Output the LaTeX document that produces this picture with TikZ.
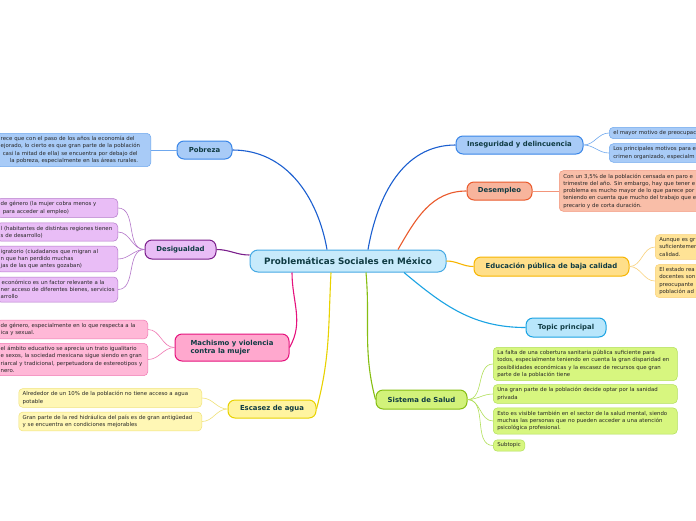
\documentclass[tikz,border=0pt]{standalone}
\usepackage{fontspec}
\setmainfont{DejaVu Sans}

\definecolor{rootfill}{HTML}{C7EAFB}
\definecolor{rootline}{HTML}{45A9E4}
\definecolor{toptext}{HTML}{0F3B43}
\definecolor{subtext}{HTML}{262626}
\definecolor{bluefill}{HTML}{A8CBF7}
\definecolor{blueline}{HTML}{3A86E8}
\definecolor{bluelink}{HTML}{1B5FD0}
\definecolor{bluetwig}{HTML}{6FA8EE}
\definecolor{violfill}{HTML}{E9BDF6}
\definecolor{violline}{HTML}{7B1F8C}
\definecolor{violtwig}{HTML}{B477CA}
\definecolor{pinkfill}{HTML}{FFA8CE}
\definecolor{pinkline}{HTML}{E5127D}
\definecolor{pinksub}{HTML}{FFB8D7}
\definecolor{pinktwig}{HTML}{F07AB4}
\definecolor{yelfill}{HTML}{FFF4A0}
\definecolor{yelline}{HTML}{E8D200}
\definecolor{yelsub}{HTML}{FFF7B5}
\definecolor{yeltwig}{HTML}{F0E27A}
\definecolor{salfill}{HTML}{F8B49C}
\definecolor{salline}{HTML}{EA5A2C}
\definecolor{salsub}{HTML}{F9BEA8}
\definecolor{saltwig}{HTML}{F3957A}
\definecolor{ambfill}{HTML}{FFDF8A}
\definecolor{ambline}{HTML}{F7B500}
\definecolor{ambsub}{HTML}{FFE396}
\definecolor{ambtwig}{HTML}{F9D17A}
\definecolor{cyanfill}{HTML}{B8E6FB}
\definecolor{cyanline}{HTML}{1AA3E3}
\definecolor{grnfill}{HTML}{D2F27A}
\definecolor{grnline}{HTML}{86BE12}
\definecolor{grnsub}{HTML}{D7F67F}
\definecolor{grntwig}{HTML}{B2E05A}

\begin{document}
\begin{tikzpicture}[x=1pt, y=-1pt,
    root/.style={rectangle, rounded corners=8pt, draw=rootline, fill=rootfill, line width=1pt, minimum width=196pt, minimum height=22pt, font=\fontsize{8.8}{10}\selectfont\bfseries, text=toptext},
    topic/.style={rectangle, rounded corners=7pt, line width=1pt, minimum height=18pt, inner sep=2pt, font=\fontsize{6.9}{8.2}\selectfont\bfseries, text=toptext},
    sub/.style={rectangle, rounded corners=4pt, line width=0.5pt, inner xsep=4pt, inner ysep=3pt, align=left, font=\fontsize{5.4}{7.3}\selectfont, text=subtext},
    link/.style={line width=1.1pt},
    twig/.style={line width=0.6pt}
]
\useasboundingbox (0,0) rectangle (696,520);
\fill[white] (0,0) rectangle (696,520);
\clip (0,0) rectangle (696,520);

% Central topic
\node[root] (root) at (348,261) {Problemáticas Sociales en México};

% Main topics - left side
\node[topic, draw=blueline, fill=bluefill, minimum width=55pt] (pobreza) at (204.5,150) {Pobreza};
\node[topic, draw=violline, fill=violfill, minimum width=71pt, minimum height=19pt] (desig) at (180.5,249.5) {Desigualdad};
\node[topic, draw=pinkline, fill=pinkfill, minimum width=114pt, minimum height=27pt, align=left] (machismo) at (232,347.5) {Machismo y violencia\\contra la mujer};
\node[topic, draw=yelline, fill=yelfill, minimum width=88pt] (escasez) at (272,409) {Escasez de agua};

% Main topics - right side
\node[topic, draw=blueline, fill=bluefill, minimum width=127pt] (inseg) at (519.5,145) {Inseguridad y delincuencia};
\node[topic, draw=salline, fill=salfill, minimum width=65pt] (desempleo) at (499.5,191) {Desempleo};
\node[topic, draw=ambline, fill=ambfill, minimum width=155pt, minimum height=19pt] (educ) at (551.5,266.5) {Educación pública de baja calidad};
\node[topic, draw=cyanline, fill=cyanfill, minimum width=80pt, minimum height=19pt] (topicp) at (566,327.5) {Topic principal};
\node[topic, draw=grnline, fill=grnfill, minimum width=91pt, minimum height=19pt] (salud) at (421.5,399.5) {Sistema de Salud};

% Links from the central topic
\draw[link, bluelink] ([xshift=-21pt]root.north) to[out=100, in=0] (pobreza.east);
\draw[link, violline] ([yshift=6pt]root.west) to[out=180, in=0] (desig.east);
\draw[link, pinkline] ([xshift=-56pt]root.south) to[out=-90, in=60] (machismo.east);
\draw[link, yelline] ([xshift=-17pt]root.south) to[out=-93, in=75] (escasez.east);
\draw[link, bluelink] ([xshift=20pt]root.north) to[out=80, in=180] (inseg.west);
\draw[link, salline] ([xshift=50pt]root.north) to[out=60, in=180] (desempleo.west);
\draw[link, ambline] (root.east) to[out=0, in=180] (educ.west);
\draw[link, cyanline] ([xshift=56pt]root.south) to[out=-40, in=180] (topicp.west);
\draw[link, grnline] ([xshift=18pt]root.south) to[out=-85, in=105] (salud.west);

% Pobreza
\node[sub, draw=bluetwig, fill=bluefill, text width=146pt, anchor=east] (pob1) at (151,150) {rece que con el paso de los años la economía del\\ejorado, lo cierto es que gran parte de la población\\\hspace*{2pt}casi la mitad de ella) se encuentra por debajo del\\\hspace*{9pt}la pobreza, especialmente en las áreas rurales.};
\draw[twig, bluetwig] (pobreza.west) -- (pob1.east);

% Desigualdad
\node[sub, draw=violtwig, fill=violfill, text width=113pt, anchor=east] (des1) at (118,208) {de género (la mujer cobra menos y\\\hspace*{2pt}para acceder al empleo)};
\node[sub, draw=violtwig, fill=violfill, text width=113pt, anchor=east] (des2) at (118,232) {\mbox{l (habitantes de distintas regiones tienen}\\s de desarrollo)};
\node[sub, draw=violtwig, fill=violfill, text width=113pt, anchor=east] (des3) at (118,259) {igratorio (ciudadanos que migran al\\n que han perdido muchas\\jas de las que antes gozaban)};
\node[sub, draw=violtwig, fill=violfill, text width=113pt, anchor=east] (des4) at (118,289.5) {\hspace*{1pt}económico es un factor relevante a la\\\mbox{ner acceso de diferentes bienes, servicios}\\arrollo};
\foreach \s in {des1,des2,des3,des4}
  \draw[twig, violtwig] (desig.west) to[out=180, in=0] (\s.east);

% Machismo y violencia contra la mujer
\node[sub, draw=pinktwig, fill=pinksub, text width=143pt, anchor=east] (mac1) at (148,329.5) {de género, especialmente en lo que respecta a la\\ica y sexual.};
\node[sub, draw=pinktwig, fill=pinksub, text width=143pt, anchor=east] (mac2) at (148,359.5) {el ámbito educativo se aprecia un trato igualitario\\e sexos, la sociedad mexicana sigue siendo en gran\\\mbox{riarcal y tradicional, perpetuadora de estereotipos y}\\nero.};
\foreach \s in {mac1,mac2}
  \draw[twig, pinktwig] (machismo.west) to[out=180, in=0] (\s.east);

% Escasez de agua
\node[sub, draw=yeltwig, fill=yelsub, text width=175pt, anchor=east] (esc1) at (202,398) {Alrededor de un 10\% de la población no tiene acceso a agua\\potable};
\node[sub, draw=yeltwig, fill=yelsub, text width=175pt, anchor=east] (esc2) at (202,421.5) {Gran parte de la red hidráulica del país es de gran antigüedad\\y se encuentra en condiciones mejorables};
\foreach \s in {esc1,esc2}
  \draw[twig, yeltwig] (escasez.west) to[out=180, in=0] (\s.east);

% Inseguridad y delincuencia
\node[sub, draw=bluetwig, fill=bluefill, text width=150pt, anchor=west] (ins1) at (609,133) {el mayor motivo de preocupac};
\node[sub, draw=bluetwig, fill=bluefill, text width=150pt, anchor=west] (ins2) at (609,153) {Los principales motivos para e\\crimen organizado, especialm};
\foreach \s in {ins1,ins2}
  \draw[twig, bluetwig] (inseg.east) to[out=0, in=180] (\s.west);

% Desempleo
\node[sub, draw=saltwig, fill=salsub, text width=150pt, anchor=west] (dem1) at (559,191) {Con un 3,5\% de la población censada en paro e\\trimestre del año. Sin embargo, hay que tener e\\problema es mucho mayor de lo que parece por\\teniendo en cuenta que mucho del trabajo que e\\precario y de corta duración.};
\draw[twig, saltwig] (desempleo.east) -- (dem1.west);

% Educacion publica de baja calidad
\node[sub, draw=ambtwig, fill=ambsub, text width=150pt, anchor=west] (edu1) at (655,247) {Aunque es gr\\suficientemen\\calidad.};
\node[sub, draw=ambtwig, fill=ambsub, text width=150pt, anchor=west] (edu2) at (655,281) {El estado rea\\docentes son\\preocupante\\población ad};
\foreach \s in {edu1,edu2}
  \draw[twig, ambtwig] (educ.east) to[out=0, in=180] (\s.west);

% Sistema de Salud
\node[sub, draw=grntwig, fill=grnsub, text width=176pt, anchor=west] (sal1) at (493,364) {La falta de una cobertura sanitaria pública suficiente para\\todos, especialmente teniendo en cuenta la gran disparidad en\\posibilidades económicas y la escasez de recursos que gran\\parte de la población tiene};
\node[sub, draw=grntwig, fill=grnsub, text width=176pt, anchor=west] (sal2) at (493,394) {Una gran parte de la población decide optar por la sanidad\\privada};
\node[sub, draw=grntwig, fill=grnsub, text width=176pt, anchor=west] (sal3) at (493,421) {Esto es visible también en el sector de la salud mental, siendo\\muchas las personas que no pueden acceder a una atención\\psicológica profesional.};
\node[sub, draw=grntwig, fill=grnsub, minimum height=11pt, anchor=west] (sal4) at (493,445.5) {Subtopic};
\foreach \s in {sal1,sal2,sal3,sal4}
  \draw[twig, grntwig] (salud.east) to[out=0, in=180] (\s.west);

\end{tikzpicture}
\end{document}
